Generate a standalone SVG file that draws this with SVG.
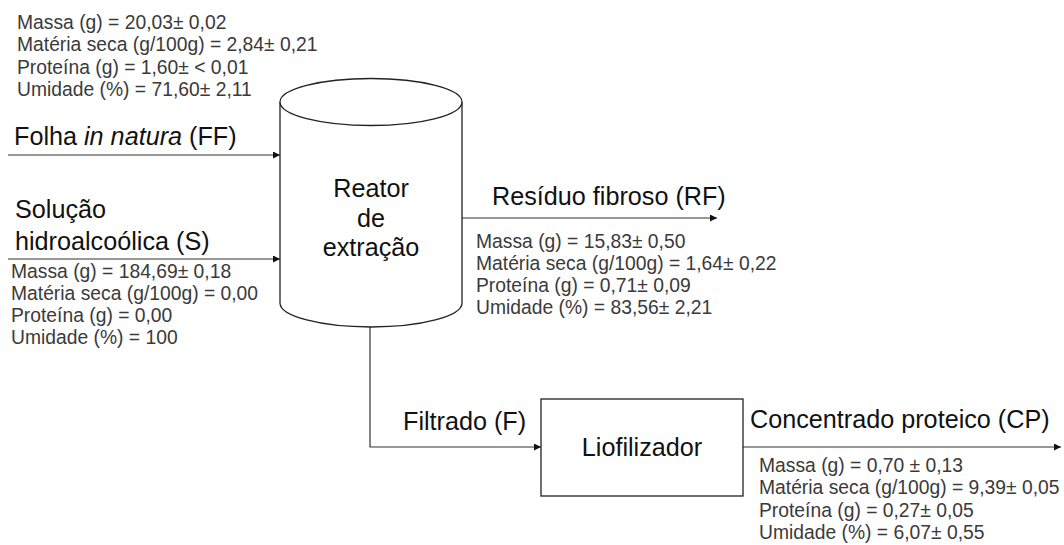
<svg xmlns="http://www.w3.org/2000/svg" width="1064" height="545" viewBox="0 0 1064 545">
  <style>
    .lbl { font-family: "Liberation Sans", Arial, sans-serif; font-size: 25.2px; fill: #111; }
    .dat { font-family: "Liberation Sans", Arial, sans-serif; font-size: 19.3px; fill: #3a3a3a; }
    .shape { fill: #fff; stroke: #222; stroke-width: 1.3; }
    .flow { fill: none; stroke: #333; stroke-width: 1.2; }
  </style>
  <defs>
    <marker id="arrow" viewBox="0 0 10 10" refX="10" refY="5" markerWidth="8" markerHeight="7" markerUnits="userSpaceOnUse" orient="auto">
      <path d="M0,0 L10,5 L0,10 Z" fill="#111"/>
    </marker>
  </defs>
  <rect width="1064" height="545" fill="#fff"/>

  <!-- stream connectors -->
  <g id="connectors">
    <line class="flow" x1="8" y1="155" x2="280" y2="155" marker-end="url(#arrow)"/>
    <line class="flow" x1="8" y1="259" x2="280" y2="259" marker-end="url(#arrow)"/>
    <line class="flow" x1="462" y1="218" x2="717" y2="218" marker-end="url(#arrow)"/>
    <polyline class="flow" points="370,327 370,447 541,447" marker-end="url(#arrow)"/>
    <line class="flow" x1="743" y1="447" x2="1061" y2="447" marker-end="url(#arrow)"/>
  </g>

  <!-- extraction reactor -->
  <g id="reator">
    <path class="shape" d="M280,102 L280,303 A91,24 0 0 0 462,303 L462,102"/>
    <ellipse class="shape" cx="371" cy="102" rx="91" ry="23.5"/>
    <text class="lbl" x="371" y="197" text-anchor="middle">Reator</text>
    <text class="lbl" x="371" y="227" text-anchor="middle">de</text>
    <text class="lbl" x="371" y="256" text-anchor="middle">extração</text>
  </g>

  <!-- freeze dryer -->
  <g id="liofilizador">
    <rect class="shape" x="541" y="399" width="202" height="97"/>
    <text class="lbl" x="642" y="456" text-anchor="middle">Liofilizador</text>
  </g>

  <!-- fresh leaf input -->
  <g id="folha">
    <text class="dat" x="17" y="29">Massa (g) = 20,03± 0,02</text>
    <text class="dat" x="17" y="51">Matéria seca (g/100g) = 2,84± 0,21</text>
    <text class="dat" x="17" y="74">Proteína (g) = 1,60± &lt; 0,01</text>
    <text class="dat" x="17" y="96">Umidade (%) = 71,60± 2,11</text>
    <text class="lbl" x="14" y="145">Folha <tspan font-style="italic">in natura</tspan> (FF)</text>
  </g>

  <!-- hydroalcoholic solution input -->
  <g id="solucao">
    <text class="lbl" x="15" y="218">Solução</text>
    <text class="lbl" x="15" y="250">hidroalcoólica (S)</text>
    <text class="dat" x="11" y="278">Massa (g) = 184,69± 0,18</text>
    <text class="dat" x="11" y="300">Matéria seca (g/100g) = 0,00</text>
    <text class="dat" x="11" y="322">Proteína (g) = 0,00</text>
    <text class="dat" x="11" y="344">Umidade (%) = 100</text>
  </g>

  <!-- fibrous residue output -->
  <g id="residuo">
    <text class="lbl" x="492" y="205">Resíduo fibroso (RF)</text>
    <text class="dat" x="476" y="248">Massa (g) = 15,83± 0,50</text>
    <text class="dat" x="476" y="270">Matéria seca (g/100g) = 1,64± 0,22</text>
    <text class="dat" x="476" y="292">Proteína (g) = 0,71± 0,09</text>
    <text class="dat" x="476" y="314">Umidade (%) = 83,56± 2,21</text>
  </g>

  <!-- filtrate -->
  <g id="filtrado">
    <text class="lbl" x="403" y="430">Filtrado (F)</text>
  </g>

  <!-- protein concentrate output -->
  <g id="concentrado">
    <text class="lbl" x="750" y="428">Concentrado proteico (CP)</text>
    <text class="dat" x="759" y="472">Massa (g) = 0,70 ± 0,13</text>
    <text class="dat" x="759" y="494">Matéria seca (g/100g) = 9,39± 0,05</text>
    <text class="dat" x="759" y="517">Proteína (g) = 0,27± 0,05</text>
    <text class="dat" x="759" y="539">Umidade (%) = 6,07± 0,55</text>
  </g>
</svg>
